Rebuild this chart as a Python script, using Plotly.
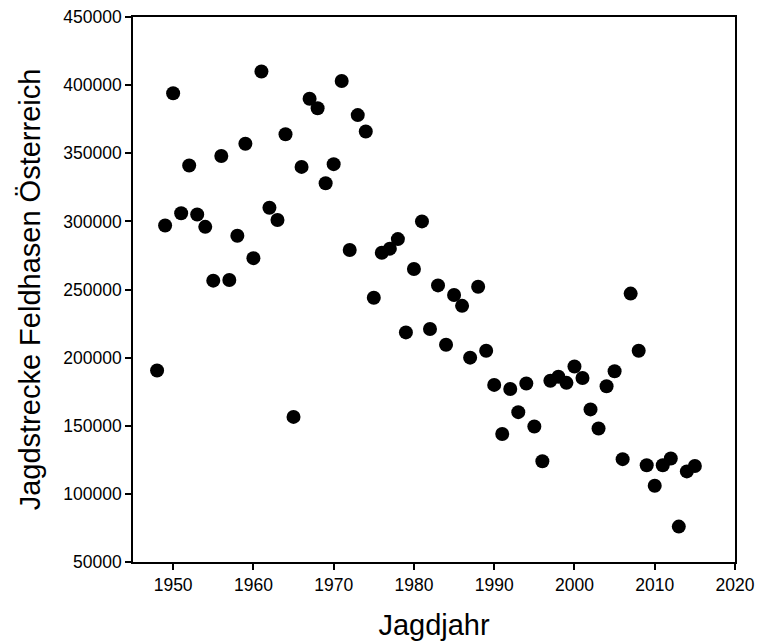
import plotly.graph_objects as go

years = list(range(1948, 2016))
harvest = [
    190500, 297000, 394000, 306000, 341000, 305000, 296000, 256500, 348000, 257000,
    289500, 357000, 273000, 410000, 310000, 301000, 364000, 156500, 340000, 390000,
    383000, 328000, 342000, 403000, 279000, 378000, 366000, 244000, 277000, 280000,
    287000, 218500, 265000, 300000, 221000, 253000, 209500, 246000, 238000, 200000,
    252000, 205000, 180000, 144000, 177000, 160000, 181000, 149500, 124000, 183000,
    186000, 181500, 193500, 185000, 162000, 148000, 179000, 190000, 125500, 247000,
    205000, 121000, 106000, 121000, 126000, 76000, 116500, 120500,
]

x_ticks = [1950, 1960, 1970, 1980, 1990, 2000, 2010, 2020]
y_ticks = [50000, 100000, 150000, 200000, 250000, 300000, 350000, 400000, 450000]

fig = go.Figure(go.Scatter(
    x=years, y=harvest, mode="markers",
    marker=dict(color="black", size=14, line=dict(width=0)),
))

axis_common = dict(
    showline=True, linecolor="black", linewidth=1.5, mirror=True,
    ticks="outside", ticklen=6, tickwidth=1.5, tickcolor="black",
    showgrid=False, zeroline=False, automargin=False,
    tickfont=dict(family="Liberation Sans, Arial", size=17.5, color="black"),
)

fig.update_layout(
    width=762, height=643,
    margin=dict(l=133, r=27, t=17, b=81),
    paper_bgcolor="white", plot_bgcolor="white",
    showlegend=False,
    font=dict(family="Liberation Sans, Arial", color="black"),
    xaxis=dict(range=[1945, 2020], tickvals=x_ticks,
               title=dict(text="Jagdjahr", font=dict(size=29), standoff=21),
               **axis_common),
    yaxis=dict(range=[50000, 450000], tickvals=y_ticks,
               ticktext=[str(v) for v in y_ticks],
               title=dict(text="Jagdstrecke Feldhasen Österreich", font=dict(size=29), standoff=14),
               **axis_common),
)

fig.write_html("out.html", config={"displayModeBar": False},
               post_script="document.body.style.margin='0';")
